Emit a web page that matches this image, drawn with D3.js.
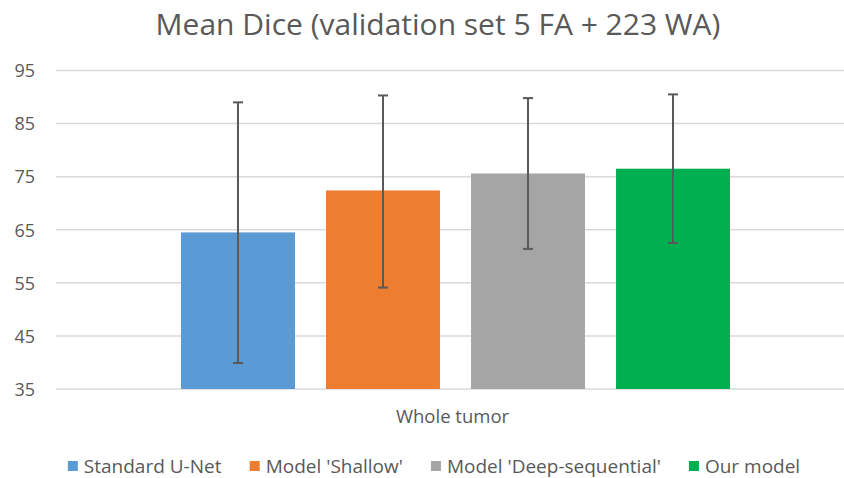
<!DOCTYPE html>
<html>
<head>
<meta charset="utf-8">
<script src="https://cdn.jsdelivr.net/npm/d3@7"></script>
<style>
  html, body { margin: 0; padding: 0; background: #fff; }
  svg { display: block; font-family: "Open Sans", "Noto Sans", sans-serif; }
</style>
</head>
<body>
<svg id="chart" width="844" height="478"></svg>
<script>
// Mean Dice per model on the validation set, with standard-deviation error bars
const categories = ["Whole tumor"];
const seriesNames = ["Standard U-Net", "Model 'Shallow'", "Model 'Deep-sequential'", "Our model"];
const meanDice = [64.5, 72.4, 75.6, 76.5];
const errLow = [39.9, 54.1, 61.4, 62.5];
const errHigh = [89.0, 90.3, 89.8, 90.5];
const yTicks = [35, 45, 55, 65, 75, 85, 95];
const colors = ["#5B9BD5", "#ED7D31", "#A5A5A5", "#00B050"];
const title = "Mean Dice (validation set 5 FA + 223 WA)";

const svg = d3.select("#chart");
const textColor = "#595959";

// plot area (extends past the right edge of the canvas)
const plot = { left: 56, right: 855, top: 70.5, bottom: 389 };

const y = d3.scaleLinear().domain([35, 95]).range([plot.bottom, plot.top]);
const x0 = d3.scaleBand().domain(categories).range([plot.left, plot.right]);
const x1 = d3.scaleBand().domain(seriesNames)
  .range([0, x0.bandwidth()])
  .paddingInner(0.214).paddingOuter(0.862);

// title
svg.append("text")
  .attr("x", 438).attr("y", 35)
  .attr("text-anchor", "middle")
  .attr("font-size", 30)
  .attr("fill", textColor)
  .text(title);

// horizontal gridlines
svg.append("g").selectAll("line")
  .data(yTicks)
  .join("line")
  .attr("x1", plot.left).attr("x2", plot.right)
  .attr("y1", d => y(d)).attr("y2", d => y(d))
  .attr("stroke", "#d9d9d9")
  .attr("stroke-width", 1.5);

// y axis labels
const yAxis = d3.axisLeft(y).tickValues(yTicks).tickSize(0).tickPadding(0);
const gy = svg.append("g")
  .attr("transform", `translate(35,0)`)
  .call(yAxis);
gy.select(".domain").remove();
gy.selectAll("text")
  .attr("font-size", 18)
  .attr("font-family", "\"Open Sans\", sans-serif")
  .attr("fill", textColor)
  .attr("dy", "0.35em");

// bars
const group = svg.append("g")
  .selectAll("g")
  .data(categories)
  .join("g")
  .attr("transform", d => `translate(${x0(d)},0)`);

const rows = seriesNames.map((s, i) => ({
  name: s, mean: meanDice[i], lo: errLow[i], hi: errHigh[i], color: colors[i]
}));

group.selectAll("rect")
  .data(rows)
  .join("rect")
  .attr("x", d => x1(d.name))
  .attr("width", x1.bandwidth())
  .attr("y", d => y(d.mean))
  .attr("height", d => y(35) - y(d.mean))
  .attr("fill", d => d.color);

// error bars
const eb = group.selectAll("g.err")
  .data(rows)
  .join("g")
  .attr("class", "err")
  .attr("transform", d => `translate(${x1(d.name) + x1.bandwidth() / 2},0)`);

eb.append("line")
  .attr("x1", 0).attr("x2", 0)
  .attr("y1", d => y(d.hi)).attr("y2", d => y(d.lo))
  .attr("stroke", textColor).attr("stroke-width", 2);
eb.append("line")
  .attr("x1", -5).attr("x2", 5)
  .attr("y1", d => y(d.hi)).attr("y2", d => y(d.hi))
  .attr("stroke", textColor).attr("stroke-width", 2);
eb.append("line")
  .attr("x1", -5).attr("x2", 5)
  .attr("y1", d => y(d.lo)).attr("y2", d => y(d.lo))
  .attr("stroke", textColor).attr("stroke-width", 2);

// category label, centred under its band
group.append("text")
  .attr("x", x0.bandwidth() / 2 - 3).attr("y", 423)
  .attr("text-anchor", "middle")
  .attr("font-size", 18.5)
  .attr("fill", textColor)
  .text(d => d);

// legend
const legend = svg.append("g");
const legendFont = 19;
const legendGap = 28;
let lx = 0;
const items = legend.selectAll("g")
  .data(rows)
  .join("g");
items.append("rect")
  .attr("y", -12).attr("width", 10).attr("height", 10)
  .attr("fill", d => d.color);
items.append("text")
  .attr("x", 16)
  .attr("font-size", legendFont)
  .attr("fill", textColor)
  .text(d => d.name);
items.each(function() {
  const w = this.getBBox().width;
  d3.select(this).attr("transform", `translate(${lx},0)`);
  lx += w + legendGap;
});
const total = lx - legendGap;
legend.attr("transform", `translate(${434 - total / 2},473)`);
</script>
</body>
</html>
